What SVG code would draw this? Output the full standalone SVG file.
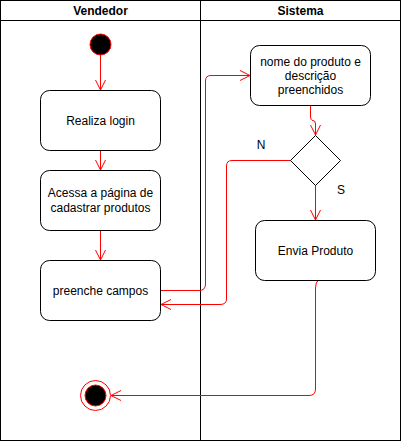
<svg xmlns="http://www.w3.org/2000/svg" width="401" height="441" viewBox="0 0 401 441">
<defs>
<marker id="open" markerWidth="12" markerHeight="12" refX="10" refY="5" orient="auto" markerUnits="userSpaceOnUse" viewBox="0 0 12 10">
<path d="M0,0 L10,5 L0,10" fill="none" stroke="#ff0000" stroke-width="1"/>
</marker>
</defs>
<style>
text{font-family:"Liberation Sans",Arial,sans-serif;font-size:12px;fill:#000;text-anchor:middle}
.hdr{font-weight:bold}
.box{fill:#fff;stroke:#000;stroke-width:1}
.edge{fill:none;stroke:#ff0000;stroke-width:1;marker-end:url(#open)}
.lane{fill:none;stroke:#000;stroke-width:1}
</style>
<rect width="401" height="441" fill="#fff"/>
<g id="lanes">
<rect class="lane" x="0.5" y="0.5" width="200" height="440"/>
<rect class="lane" x="200.5" y="0.5" width="200" height="440"/>
<line class="lane" x1="0.5" y1="20.5" x2="400.5" y2="20.5"/>
<text class="hdr" x="100.5" y="15">Vendedor</text>
<text class="hdr" x="300.5" y="15">Sistema</text>
</g>
<g id="connectors">
<path class="edge" d="M100.5,55 L100.5,90"/>
<path class="edge" d="M100.5,150 L100.5,170"/>
<path class="edge" d="M100.5,230 L100.5,260"/>
<path class="edge" d="M160.5,290.5 L199,290.5 Q205.5,290.5 205.5,284 L205.5,81 Q205.5,75.5 211,75.5 L250,75.5"/>
<path class="edge" d="M310.5,105 L310.5,116 Q310.5,120.5 313,120.5 Q315.5,120.5 315.5,124 L315.5,135"/>
<path class="edge" d="M290.5,160.5 L232,160.5 Q226.5,160.5 226.5,166 L226.5,299 Q226.5,304.5 220,304.5 L161,304.5"/>
<path class="edge" d="M315.5,185 L315.5,220"/>
<path class="edge" d="M318.5,280 Q315.5,282 315.5,288 L315.5,389 Q315.5,395.5 309,395.5 L111,395.5"/>
<text x="261" y="149">N</text>
<text x="341" y="194">S</text>
</g>
<g id="start">
<circle cx="100.5" cy="44.5" r="10.5" fill="#000" stroke="#ff0000" stroke-width="1"/>
</g>
<g id="login">
<rect class="box" x="40.5" y="90.5" width="120" height="60" rx="9"/>
<text x="100.5" y="125">Realiza login</text>
</g>
<g id="acessa">
<rect class="box" x="40.5" y="170.5" width="120" height="60" rx="9"/>
<text x="100.5" y="197">Acessa a página de</text>
<text x="100.5" y="212">cadastrar produtos</text>
</g>
<g id="preenche">
<rect class="box" x="40.5" y="260.5" width="120" height="60" rx="9"/>
<text x="100.5" y="295">preenche campos</text>
</g>
<g id="nome">
<rect class="box" x="250.5" y="45.5" width="120" height="60" rx="9"/>
<text x="310.5" y="66">nome do produto e</text>
<text x="310.5" y="80">descrição</text>
<text x="310.5" y="94">preenchidos</text>
</g>
<g id="decisao">
<path class="box" d="M315.5,135.5 L340.5,160.5 L315.5,185.5 L290.5,160.5 Z"/>
</g>
<g id="envia">
<rect class="box" x="255.5" y="220.5" width="120" height="60" rx="9"/>
<text x="315.5" y="255">Envia Produto</text>
</g>
<g id="fim">
<circle cx="95.5" cy="395.5" r="15" fill="#fff" stroke="#ff0000" stroke-width="1"/>
<circle cx="95.5" cy="395.5" r="10.5" fill="#000" stroke="#ff0000" stroke-width="1"/>
</g>
</svg>
